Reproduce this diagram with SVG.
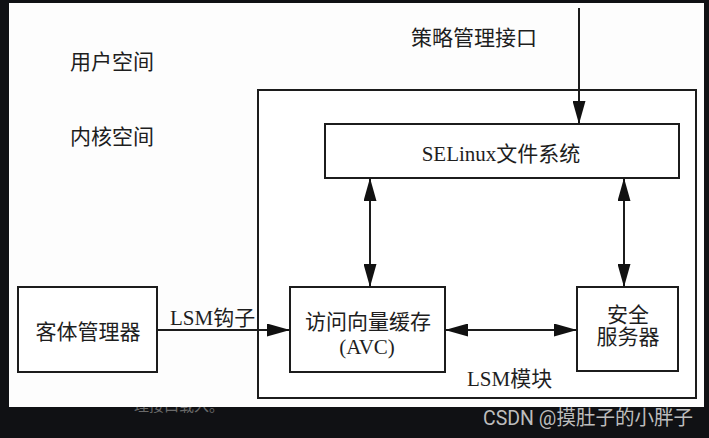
<svg xmlns="http://www.w3.org/2000/svg" width="709" height="438" viewBox="0 0 709 438">
<style>
.bx{fill:#fff;stroke:#1c1c1c;stroke-width:2}
.ln{fill:none;stroke:#1c1c1c;stroke-width:2}
.t{font-family:"Liberation Serif","Noto Sans CJK SC",serif;font-size:21px;fill:#1e1e1e}
.m{text-anchor:middle}
</style>
<defs>
<marker id="ah" markerUnits="userSpaceOnUse" markerWidth="23" markerHeight="13" refX="23" refY="6.5" orient="auto-start-reverse" viewBox="0 0 23 13">
<path d="M0,0 L23,6.5 L0,13 z" fill="#111"/>
</marker>
</defs>
<rect x="0" y="0" width="709" height="438" fill="#101114"/>
<text x="134" y="411" font-family="'Noto Sans CJK SC','Liberation Sans',sans-serif" font-size="15" fill="#6a6a6a">理接口载入。</text>
<rect x="9" y="3" width="695" height="404" fill="#fdfdfd"/>

<g id="labels">
<text class="t" x="70" y="69">用户空间</text>
<text class="t" x="70" y="144">内核空间</text>
<text class="t" x="411" y="45">策略管理接口</text>
</g>

<g id="lsm-module">
<rect class="bx" x="258" y="90" width="438" height="308" fill="none"/>
<text class="t" x="467" y="386">LSM模块</text>
</g>

<g id="selinux-fs">
<rect class="bx" x="325" y="124" width="354" height="54"/>
<text class="t m" x="501" y="161" font-size="22">SELinux文件系统</text>
</g>

<g id="avc">
<rect class="bx" x="290" y="287" width="155" height="85"/>
<text class="t m" x="368" y="329">访问向量缓存</text>
<text class="t m" x="367" y="354" font-size="22">(AVC)</text>
</g>

<g id="security-server">
<rect class="bx" x="577" y="287" width="101" height="84"/>
<text class="t m" x="628" y="322">安全</text>
<text class="t m" x="628" y="344">服务器</text>
</g>

<g id="object-manager">
<rect class="bx" x="18" y="287" width="139" height="85"/>
<text class="t m" x="88" y="339">客体管理器</text>
</g>

<g id="connectors">
<line class="ln" x1="579" y1="8" x2="579" y2="124" marker-end="url(#ah)"/>
<line class="ln" x1="370" y1="178" x2="370" y2="287" marker-start="url(#ah)" marker-end="url(#ah)"/>
<line class="ln" x1="624" y1="178" x2="624" y2="287" marker-start="url(#ah)" marker-end="url(#ah)"/>
<line class="ln" x1="157" y1="330" x2="290" y2="330" marker-end="url(#ah)"/>
<line class="ln" x1="445" y1="330" x2="577" y2="330" marker-start="url(#ah)" marker-end="url(#ah)"/>
<text class="t" x="170" y="325">LSM钩子</text>
</g>

<text x="483" y="425" font-family="Roboto,'Noto Sans CJK SC',sans-serif" font-size="20" fill="#bdbdbd" textLength="210" lengthAdjust="spacingAndGlyphs">CSDN @摸肚子的小胖子</text>
</svg>
